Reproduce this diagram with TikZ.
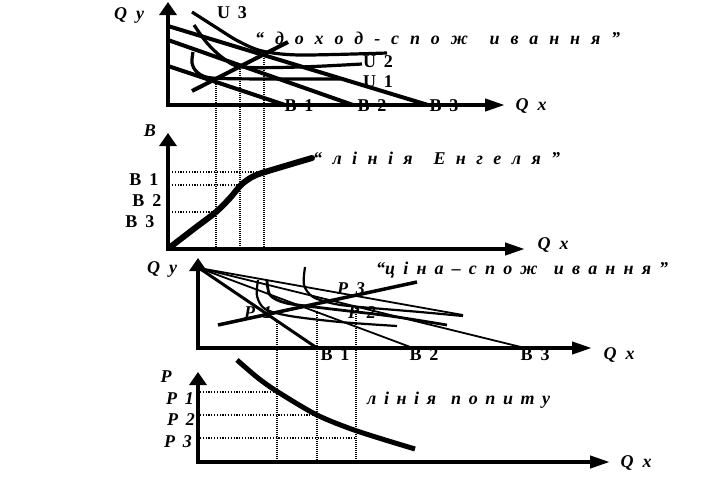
\documentclass[tikz,border=0pt]{standalone}
\usepackage{fontspec}
\setmainfont{Liberation Serif}
\usetikzlibrary{arrows.meta}
\begin{document}
\begin{tikzpicture}[x=1pt,y=-1pt,
  axes/.style={line width=4pt, line join=miter,
    {Triangle[length=13pt,width=17pt]}-{Triangle[length=20pt,width=12pt]}},
  lbl/.style={font=\fontsize{18}{21}\selectfont\bfseries, inner sep=0pt},
  ilbl/.style={font=\fontsize{18}{21}\selectfont\bfseries\itshape, inner sep=0pt},
  phrase/.style={font=\fontsize{18}{21}\selectfont\bfseries\itshape, inner sep=0pt, anchor=west},
  guide/.style={line width=1.6pt, dash pattern=on 1pt off 1pt},
  hguide/.style={line width=1.2pt, dash pattern=on 1.2pt off 1.6pt},
  bline/.style={line width=4pt},
  icurve/.style={line width=3.2pt},
  thinl/.style={line width=1.8pt},
]
\useasboundingbox (0,0) rectangle (723,483);

% ---------- panel 1: income-consumption ----------
\coordinate (O1) at (168,105);
\coordinate (Y1) at (168,2);
\coordinate (X1) at (505,105);
\draw[axes] (Y1) -- (O1) -- (X1);
\draw[bline] (168,66) -- (285,105);
\draw[bline] (168,40) -- (353,105);
\draw[bline] (168,26) -- (428,105);
\draw[icurve] plot[smooth] coordinates {(192,12) (217,28) (238,41) (262,51) (300,55) (387,53)};
\draw[icurve] plot[smooth] coordinates {(194,25) (207,43) (223,58) (242,67) (300,67) (362,64)};
\draw[icurve] plot[smooth] coordinates {(193,52) (192,63) (197,72) (212,78) (270,79) (340,79)};
\draw[bline] (192,91) -- (288,42);
\draw[guide] (216,84) -- (216,249);
\draw[guide] (240,67) -- (240,249);
\draw[guide] (264,56) -- (264,249);
\node[ilbl] (qy1) at (129,15) {Q\hspace{9pt}y};
\node[lbl] (u3) at (232,13) {U\hspace{8pt}3};
\node[lbl] (u2) at (378,62) {U\hspace{8pt}2};
\node[lbl] (u1) at (378,82) {U\hspace{8pt}1};
\node[lbl] (b11) at (299,106) {B\hspace{8pt}1};
\node[lbl] (b12) at (372,106) {B\hspace{8pt}2};
\node[lbl] (b13) at (444,106) {B\hspace{8pt}3};
\node[ilbl] (qx1) at (531,106) {Q\hspace{9pt}x};
\node[phrase] (t1) at (255,38) {\makebox[365pt][s]{“ д о х о д - с п о ж \ и в а н н я ”}};

% ---------- panel 2: Engel ----------
\coordinate (O2) at (168,249);
\coordinate (Y2) at (168,133);
\coordinate (X2) at (525,249);
\draw[axes] (Y2) -- (O2) -- (X2);
\draw[line width=6pt, line cap=round] plot[smooth] coordinates {(169,248) (195,228) (216,212) (230,198) (241,185) (252,177) (265,172) (312,158)};
\draw[hguide] (172,172) -- (264,172);
\draw[hguide] (172,185) -- (240,185);
\draw[hguide] (172,212) -- (216,212);
\node[ilbl] (bb) at (150,131) {B};
\node[lbl] (b21) at (144,180) {B\hspace{8pt}1};
\node[lbl] (b22) at (147,201) {B\hspace{8pt}2};
\node[lbl] (b23) at (140,222) {B\hspace{8pt}3};
\node[ilbl] (qx2) at (553,245) {Q\hspace{9pt}x};
\node[phrase] (t2) at (313,158) {\makebox[247pt][s]{“ л і н і я \ Е н г е л я ”}};

% ---------- panel 3: price-consumption ----------
\coordinate (O3) at (198,348);
\coordinate (Y3) at (198,258);
\coordinate (X3) at (592,348);
\draw[axes] (Y3) -- (O3) -- (X3);
\coordinate (P0) at (199,268);
\draw[line width=3pt] (P0) -- (317,348);
\draw[thinl] (P0) -- (413,348);
\draw[thinl] (P0) -- (525,348);
\draw[thinl] (P0) -- (463,315);
\draw[line width=3.5pt] (218,325) -- (417,282);
\draw[line width=2.2pt] plot[smooth] coordinates {(258,280) (257,296) (265,309) (290,316) (340,322) (397,326)};
\draw[line width=2.8pt] plot[smooth] coordinates {(267,280) (270,295) (286,303) (323,308) (390,316) (447,325)};
\draw[line width=2.2pt] plot[smooth] coordinates {(305,267) (304,285) (313,297) (335,304) (360,307) (420,312) (463,316)};
\draw[guide] (277,320) -- (277,462);
\draw[guide] (317,311) -- (317,462);
\draw[guide] (356,306) -- (356,462);
\node[ilbl] (qy3) at (162,269) {Q\hspace{9pt}y};
\node[ilbl] (p33) at (351,289) {P\hspace{8pt}3};
\node[ilbl] (p31) at (258,313) {P\hspace{8pt}1};
\node[ilbl] (p32) at (362,313) {P\hspace{8pt}2};
\node[lbl] (b31) at (335,355) {B\hspace{8pt}1};
\node[lbl] (b32) at (424,355) {B\hspace{8pt}2};
\node[lbl] (b33) at (535,355) {B\hspace{8pt}3};
\node[ilbl] (qx3) at (619,355) {Q\hspace{9pt}x};
\node[phrase] (t3) at (376,270) {\makebox[292pt][s]{“ц і н а – с п о ж \ и в а н н я ”}};

% ---------- panel 4: demand ----------
\coordinate (O4) at (198,462);
\coordinate (Y4) at (198,372);
\coordinate (X4) at (610,462);
\draw[axes] (Y4) -- (O4) -- (X4);
\draw[line width=5pt] plot[smooth] coordinates {(237,360) (258,378) (278,392) (317,415) (357,431) (415,449)};
\draw[hguide] (200,392) -- (277,392);
\draw[hguide] (200,415) -- (317,415);
\draw[hguide] (200,438) -- (356,438);
\node[ilbl] (pp) at (166,377) {P};
\node[ilbl] (p41) at (180,399) {P\hspace{8pt}1};
\node[ilbl] (p42) at (181,420) {P\hspace{8pt}2};
\node[ilbl] (p43) at (178,442) {P\hspace{8pt}3};
\node[ilbl] (qx4) at (636,463) {Q\hspace{9pt}x};
\node[phrase] (t4) at (367,400) {\makebox[183pt][s]{л і н і я \ п о п и т у}};
\end{tikzpicture}
\end{document}
